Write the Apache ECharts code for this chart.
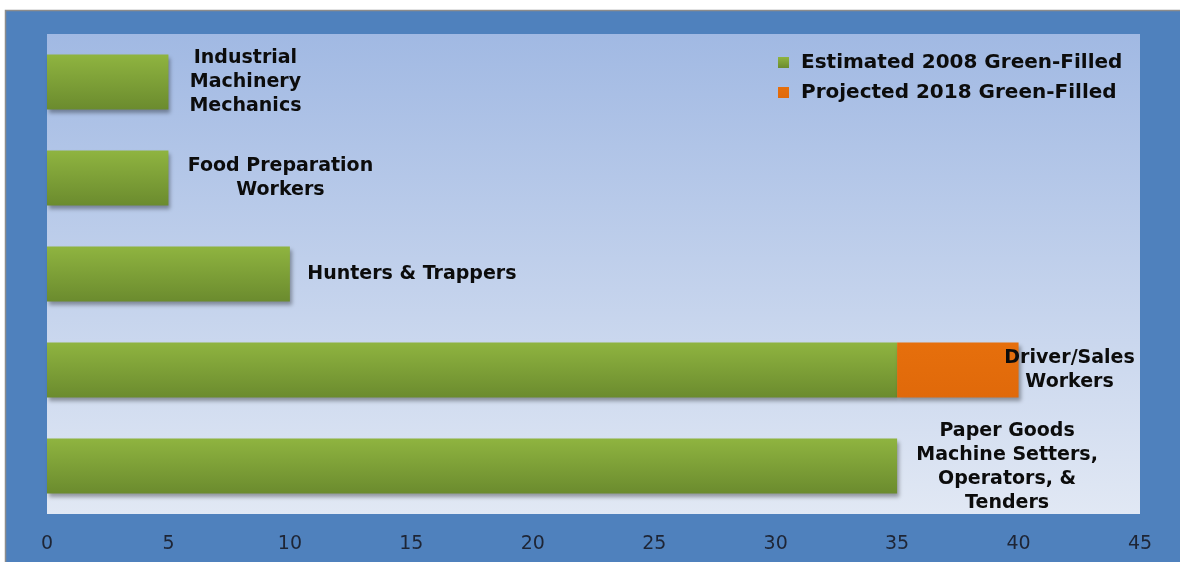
<!DOCTYPE html>
<html>
<head>
<meta charset="utf-8">
<style>
html,body{margin:0;padding:0;background:#ffffff;}
#chart{width:1180px;height:562px;}
</style>
<script src="https://cdn.jsdelivr.net/npm/echarts@6/dist/echarts.min.js"></script>
</head>
<body>
<div id="chart"></div>
<script>
const categories = [
  "Industrial\nMachinery\nMechanics",
  "Food Preparation\nWorkers",
  "Hunters & Trappers",
  "Driver/Sales\nWorkers",
  "Paper Goods\nMachine Setters,\nOperators, &\nTenders"
];
const estimated2008 = [5, 5, 10, 35, 35];
const projected2018 = [null, null, null, 5, null];
const seriesNames = ["Estimated 2008 Green-Filled", "Projected 2018 Green-Filled"];
const xTicks = { min: 0, max: 45, interval: 5 };

// label placement (styling only)
const greenLabelOffsets = [[72, 0], [107, 0], [117, 0], null, [105, 1]];
const orangeLabelOffsets = [null, null, null, [46, 0], null];

const labelFont = {
  show: true,
  position: 'right',
  distance: 5,
  align: 'center',
  verticalAlign: 'middle',
  fontFamily: 'DejaVu Sans',
  fontWeight: 'bold',
  fontSize: 19,
  lineHeight: 24,
  color: '#0c0c0c',
  formatter: p => categories[p.dataIndex]
};

function buildData(values, offsets) {
  return values.map((v, i) => {
    const off = offsets[i];
    if (off) return { value: v, label: Object.assign({}, labelFont, { offset: off }) };
    return { value: v, label: { show: false } };
  });
}

const greenColor = new echarts.graphic.LinearGradient(0, 0, 0, 1, [
  { offset: 0, color: '#8FB440' },
  { offset: 1, color: '#6B8B2E' }
]);
const orangeColor = new echarts.graphic.LinearGradient(0, 0, 0, 1, [
  { offset: 0, color: '#E66F0C' },
  { offset: 1, color: '#E0690A' }
]);

const chart = echarts.init(document.getElementById('chart'), null, { renderer: 'canvas' });
chart.setOption({
  animation: false,
  backgroundColor: '#ffffff',
  graphic: [{
    type: 'rect',
    z: -100,
    silent: true,
    shape: { x: 5.5, y: 10.5, width: 1180, height: 560 },
    style: { fill: '#4F81BD', stroke: '#8C8C8C', lineWidth: 1.5 }
  }],
  grid: {
    left: 47, top: 34, right: 40, bottom: 48,
    show: true,
    borderWidth: 0,
    backgroundColor: new echarts.graphic.LinearGradient(0, 0, 0, 1, [
      { offset: 0, color: '#A1B9E3' },
      { offset: 1, color: '#E1E8F4' }
    ])
  },
  legend: {
    orient: 'vertical',
    left: 773,
    top: 47,
    itemWidth: 11,
    itemHeight: 11,
    itemGap: 9,
    icon: 'rect',
    data: seriesNames,
    textStyle: {
      fontFamily: 'DejaVu Sans',
      fontWeight: 'bold',
      fontSize: 20,
      lineHeight: 21,
      color: '#0c0c0c',
      padding: [0, 0, 0, 7]
    }
  },
  xAxis: {
    type: 'value',
    min: xTicks.min,
    max: xTicks.max,
    interval: xTicks.interval,
    splitLine: { show: false },
    axisLine: { show: false },
    axisTick: { show: false },
    axisLabel: {
      margin: 21,
      fontFamily: 'DejaVu Sans',
      fontSize: 19,
      color: '#1E2535'
    }
  },
  yAxis: {
    type: 'category',
    inverse: true,
    data: categories,
    axisLine: { show: false },
    axisTick: { show: false },
    axisLabel: { show: false },
    splitLine: { show: false }
  },
  series: [
    {
      name: seriesNames[0],
      type: 'bar',
      stack: 'total',
      barWidth: 55,
      itemStyle: {
        color: greenColor,
        shadowColor: 'rgba(0,0,0,0.35)',
        shadowBlur: 4,
        shadowOffsetX: 2,
        shadowOffsetY: 3
      },
      data: buildData(estimated2008, greenLabelOffsets)
    },
    {
      name: seriesNames[1],
      type: 'bar',
      stack: 'total',
      barWidth: 55,
      itemStyle: {
        color: orangeColor,
        shadowColor: 'rgba(0,0,0,0.35)',
        shadowBlur: 4,
        shadowOffsetX: 2,
        shadowOffsetY: 3
      },
      data: buildData(projected2018, orangeLabelOffsets)
    }
  ]
});
</script>
</body>
</html>
